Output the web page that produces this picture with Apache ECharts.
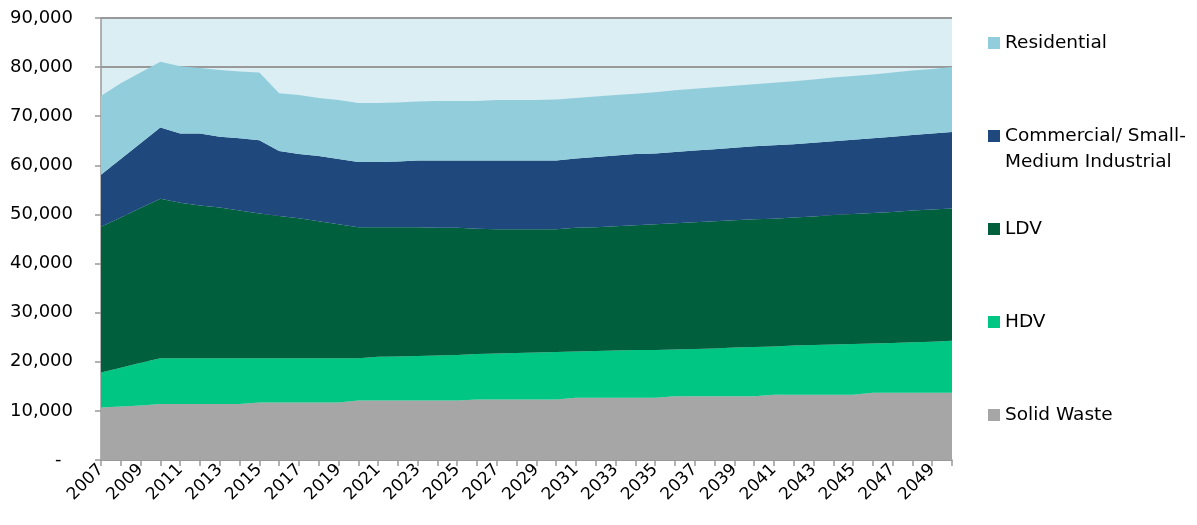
<!DOCTYPE html>
<html>
<head>
<meta charset="utf-8">
<script src="https://cdn.jsdelivr.net/npm/echarts@6/dist/echarts.min.js"></script>
<style>
  html, body { margin: 0; padding: 0; background: #fff; }
  #chart { width: 1197px; height: 525px; }
</style>
</head>
<body>
<div id="chart"></div>
<script>
const years = []
for (let y = 2007; y <= 2050; y++) years.push(String(y))

// values per sector
const solidWaste = [10700, 10900, 11100, 11400, 11400, 11400, 11400, 11400, 11700, 11700,
  11700, 11700, 11700, 12100, 12100, 12100, 12100, 12100, 12100, 12300,
  12300, 12300, 12300, 12300, 12700, 12700, 12700, 12700, 12700, 13000,
  13000, 13000, 13000, 13000, 13300, 13300, 13300, 13300, 13300, 13700,
  13700, 13700, 13700, 13700]
const hdv = [7100, 7900, 8700, 9300, 9300, 9300, 9300, 9300, 9000, 9000,
  9000, 9000, 9000, 8600, 8900, 9000, 9100, 9200, 9300, 9300,
  9400, 9500, 9600, 9700, 9400, 9500, 9600, 9700, 9700, 9500,
  9600, 9700, 9900, 10000, 9800, 10000, 10100, 10200, 10300, 10000,
  10100, 10300, 10400, 10600]
const ldv = [29700, 30600, 31500, 32500, 31700, 31100, 30700, 30100, 29500, 29000,
  28500, 27900, 27300, 26700, 26400, 26300, 26200, 26000, 25900, 25500,
  25300, 25200, 25100, 25000, 25200, 25200, 25300, 25400, 25600, 25700,
  25800, 25900, 25900, 26000, 26000, 26100, 26200, 26400, 26500, 26600,
  26700, 26800, 26900, 26900]
const commercial = [10600, 11900, 13200, 14500, 14100, 14700, 14400, 14700, 14900, 13200,
  13100, 13300, 13300, 13300, 13300, 13400, 13600, 13700, 13700, 13900,
  14000, 14000, 14000, 14000, 14100, 14300, 14400, 14500, 14400, 14500,
  14600, 14700, 14800, 14900, 15000, 14900, 15000, 15000, 15100, 15200,
  15300, 15400, 15500, 15600]
const residential = [16000, 15400, 14400, 13400, 13700, 13300, 13600, 13600, 13800, 11800,
  12000, 11800, 12000, 12000, 12000, 12000, 12000, 12100, 12100, 12100,
  12300, 12300, 12300, 12400, 12300, 12300, 12300, 12300, 12500, 12600,
  12600, 12600, 12600, 12600, 12700, 12800, 12900, 13000, 13000, 13000,
  13100, 13100, 13100, 13200]

const yTicks = { min: 0, max: 90000, step: 10000 }

const chart = echarts.init(document.getElementById('chart'))

const areaSeries = (name, data, color) => ({
  name,
  type: 'line',
  stack: 'total',
  data,
  symbol: 'none',
  lineStyle: { width: 0 },
  areaStyle: { color, opacity: 1 },
  itemStyle: { color },
  emphasis: { disabled: true }
})

// blank first line keeps the icon beside the first text line
const legendText = {
  'Residential': '\nResidential\n',
  'Commercial/ Small-Medium Industrial': '\nCommercial/ Small-\nMedium Industrial',
  'LDV': '\nLDV\n',
  'HDV': '\nHDV\n',
  'Solid Waste': '\nSolid Waste\n'
}

chart.setOption({
  animation: false,
  textStyle: { fontFamily: 'DejaVu Sans' },
  grid: {
    left: 101, right: 245, top: 18, bottom: 65,
    show: true, backgroundColor: '#DAEEF3', borderWidth: 0
  },
  legend: {
    orient: 'vertical',
    left: 988, top: 4, padding: 0,
    itemWidth: 12, itemHeight: 12, itemGap: 15,
    icon: 'rect',
    data: ['Residential', 'Commercial/ Small-Medium Industrial', 'LDV', 'HDV', 'Solid Waste'],
    formatter: n => legendText[n],
    textStyle: { fontFamily: 'DejaVu Sans', fontSize: 18.5, color: '#000', lineHeight: 26 }
  },
  xAxis: {
    type: 'category',
    data: years,
    boundaryGap: false,
    axisLine: { lineStyle: { color: '#999', width: 1.5 } },
    axisTick: { show: true, interval: 0, length: 6, lineStyle: { color: '#999', width: 1.5 } },
    axisLabel: {
      interval: 1, rotate: 45, margin: 7,
      fontFamily: 'DejaVu Sans', fontSize: 17, color: '#000'
    },
    splitLine: { show: false }
  },
  yAxis: {
    type: 'value',
    min: yTicks.min, max: yTicks.max, interval: yTicks.step,
    axisLine: { show: true, lineStyle: { color: '#999', width: 1.5 } },
    axisTick: { show: true, length: 6, lineStyle: { color: '#999', width: 1.5 } },
    axisLabel: {
      margin: 28, fontSize: 18, color: '#000',
      formatter: v => v === 0 ? '-  ' : v.toLocaleString('en-US')
    },
    splitLine: { lineStyle: { color: '#999', width: 2 } }
  },
  series: [
    areaSeries('Solid Waste', solidWaste, '#A6A6A6'),
    areaSeries('HDV', hdv, '#00C683'),
    areaSeries('LDV', ldv, '#005F3D'),
    areaSeries('Commercial/ Small-Medium Industrial', commercial, '#1F497D'),
    areaSeries('Residential', residential, '#92CDDC')
  ]
})
</script>
</body>
</html>
